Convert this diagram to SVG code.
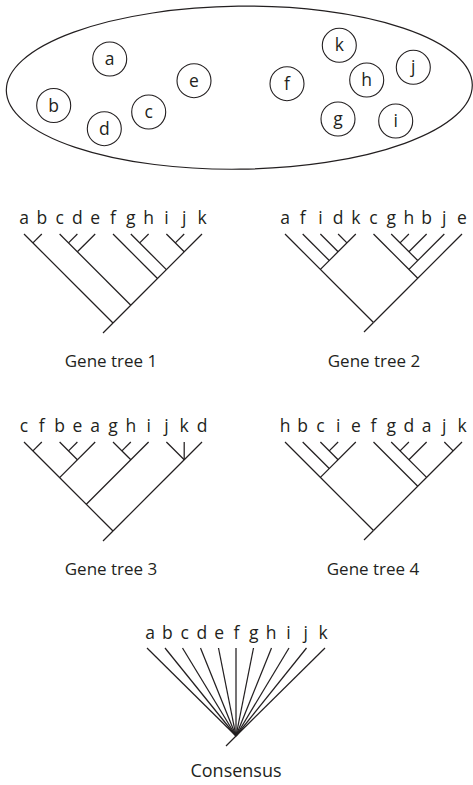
<svg xmlns="http://www.w3.org/2000/svg" width="473" height="785" viewBox="0 0 473 785">
<style>
  .lbl{font-family:"Open Sans","Noto Sans","Liberation Sans",sans-serif;font-size:17.5px;fill:#231f20;text-anchor:middle}
  .cap{font-family:"Open Sans","Noto Sans","Liberation Sans",sans-serif;font-size:17px;fill:#231f20;text-anchor:middle}
  .node circle{fill:none;stroke:#231f20;stroke-width:1.1}
  .br line{stroke:#231f20;stroke-width:1.25;fill:none}
  .pop{fill:none;stroke:#231f20;stroke-width:1.2}
</style>
<rect width="473" height="785" fill="#fff"/>
<g id="population">
  <ellipse class="pop" cx="239.3" cy="87.7" rx="233" ry="81.5" transform="rotate(-0.7 239.3 87.7)"/>
  <g id="node-a" class="node"><circle cx="109.7" cy="59" r="17"/><text class="lbl" x="109.7" y="65">a</text></g>
  <g id="node-b" class="node"><circle cx="53.7" cy="105.5" r="17"/><text class="lbl" x="53.7" y="111.5">b</text></g>
  <g id="node-d" class="node"><circle cx="104.3" cy="128.7" r="17"/><text class="lbl" x="104.3" y="134.7">d</text></g>
  <g id="node-c" class="node"><circle cx="148.7" cy="112" r="17"/><text class="lbl" x="148.7" y="118">c</text></g>
  <g id="node-e" class="node"><circle cx="194" cy="80.7" r="17"/><text class="lbl" x="194" y="86.7">e</text></g>
  <g id="node-f" class="node"><circle cx="287" cy="83.7" r="17"/><text class="lbl" x="287" y="89.7">f</text></g>
  <g id="node-k" class="node"><circle cx="339.3" cy="45.3" r="17"/><text class="lbl" x="339.3" y="51.3">k</text></g>
  <g id="node-h" class="node"><circle cx="366.7" cy="80" r="17"/><text class="lbl" x="366.7" y="86">h</text></g>
  <g id="node-j" class="node"><circle cx="413.3" cy="67.3" r="17"/><text class="lbl" x="413.3" y="73.3">j</text></g>
  <g id="node-g" class="node"><circle cx="338" cy="119" r="17"/><text class="lbl" x="338" y="125">g</text></g>
  <g id="node-i" class="node"><circle cx="395.7" cy="121" r="17"/><text class="lbl" x="395.7" y="127">i</text></g>
</g>

<g id="tree1">
  <g class="br" id="tree1-branches">
    <line x1="24" y1="234" x2="113" y2="323"/>
    <line x1="41.8" y1="234" x2="32.9" y2="242.9"/>
    <line x1="59.6" y1="234" x2="130.8" y2="305.2"/>
    <line x1="77.4" y1="234" x2="68.5" y2="242.9"/>
    <line x1="95.2" y1="234" x2="77.4" y2="251.8"/>
    <line x1="113" y1="234" x2="157.5" y2="278.5"/>
    <line x1="130.8" y1="234" x2="166.4" y2="269.6"/>
    <line x1="148.6" y1="234" x2="139.7" y2="242.9"/>
    <line x1="166.4" y1="234" x2="184.2" y2="251.8"/>
    <line x1="184.2" y1="234" x2="175.3" y2="242.9"/>
    <line x1="202" y1="234" x2="113" y2="323"/>
    <line x1="113" y1="323" x2="103" y2="333"/>
  </g>
  <g class="leaves">
    <text class="lbl" x="24" y="224">a</text><text class="lbl" x="41.8" y="224">b</text><text class="lbl" x="59.6" y="224">c</text><text class="lbl" x="77.4" y="224">d</text><text class="lbl" x="95.2" y="224">e</text><text class="lbl" x="113" y="224">f</text><text class="lbl" x="130.8" y="224">g</text><text class="lbl" x="148.6" y="224">h</text><text class="lbl" x="166.4" y="224">i</text><text class="lbl" x="184.2" y="224">j</text><text class="lbl" x="202" y="224">k</text>
  </g>
  <text class="cap" x="111" y="367">Gene tree 1</text>
</g>

<g id="tree2">
  <g class="br" id="tree2-branches">
    <line x1="285" y1="234" x2="373.5" y2="322.5"/>
    <line x1="302.7" y1="234" x2="329.25" y2="260.55"/>
    <line x1="320.4" y1="234" x2="338.1" y2="251.7"/>
    <line x1="338.1" y1="234" x2="346.95" y2="242.85"/>
    <line x1="355.8" y1="234" x2="320.4" y2="269.4"/>
    <line x1="373.5" y1="234" x2="417.75" y2="278.25"/>
    <line x1="391.2" y1="234" x2="417.75" y2="260.55"/>
    <line x1="408.9" y1="234" x2="400.05" y2="242.85"/>
    <line x1="426.6" y1="234" x2="408.9" y2="251.7"/>
    <line x1="444.3" y1="234" x2="408.9" y2="269.4"/>
    <line x1="462" y1="234" x2="373.5" y2="322.5"/>
    <line x1="373.5" y1="322.5" x2="364" y2="332"/>
  </g>
  <g class="leaves">
    <text class="lbl" x="285" y="224">a</text><text class="lbl" x="302.7" y="224">f</text><text class="lbl" x="320.4" y="224">i</text><text class="lbl" x="338.1" y="224">d</text><text class="lbl" x="355.8" y="224">k</text><text class="lbl" x="373.5" y="224">c</text><text class="lbl" x="391.2" y="224">g</text><text class="lbl" x="408.9" y="224">h</text><text class="lbl" x="426.6" y="224">b</text><text class="lbl" x="444.3" y="224">j</text><text class="lbl" x="462" y="224">e</text>
  </g>
  <text class="cap" x="374" y="367">Gene tree 2</text>
</g>

<g id="tree3">
  <g class="br" id="tree3-branches">
    <line x1="24" y1="442" x2="113" y2="531"/>
    <line x1="41.8" y1="442" x2="32.9" y2="450.9"/>
    <line x1="59.6" y1="442" x2="77.4" y2="459.8"/>
    <line x1="77.4" y1="442" x2="68.5" y2="450.9"/>
    <line x1="95.2" y1="442" x2="59.6" y2="477.6"/>
    <line x1="113" y1="442" x2="130.8" y2="459.8"/>
    <line x1="130.8" y1="442" x2="121.9" y2="450.9"/>
    <line x1="148.6" y1="442" x2="86.3" y2="504.3"/>
    <line x1="166.4" y1="442" x2="184.2" y2="459.8"/>
    <line x1="184.2" y1="442" x2="184.2" y2="459.8"/>
    <line x1="202" y1="442" x2="113" y2="531"/>
    <line x1="113" y1="531" x2="103" y2="541"/>
  </g>
  <g class="leaves">
    <text class="lbl" x="24" y="432">c</text><text class="lbl" x="41.8" y="432">f</text><text class="lbl" x="59.6" y="432">b</text><text class="lbl" x="77.4" y="432">e</text><text class="lbl" x="95.2" y="432">a</text><text class="lbl" x="113" y="432">g</text><text class="lbl" x="130.8" y="432">h</text><text class="lbl" x="148.6" y="432">i</text><text class="lbl" x="166.4" y="432">j</text><text class="lbl" x="184.2" y="432">k</text><text class="lbl" x="202" y="432">d</text>
  </g>
  <text class="cap" x="111" y="575">Gene tree 3</text>
</g>

<g id="tree4">
  <g class="br" id="tree4-branches">
    <line x1="285" y1="442" x2="373.5" y2="530.5"/>
    <line x1="302.7" y1="442" x2="329.25" y2="468.55"/>
    <line x1="320.4" y1="442" x2="338.1" y2="459.7"/>
    <line x1="338.1" y1="442" x2="329.25" y2="450.85"/>
    <line x1="355.8" y1="442" x2="320.4" y2="477.4"/>
    <line x1="373.5" y1="442" x2="417.75" y2="486.25"/>
    <line x1="391.2" y1="442" x2="426.6" y2="477.4"/>
    <line x1="408.9" y1="442" x2="400.05" y2="450.85"/>
    <line x1="426.6" y1="442" x2="408.9" y2="459.7"/>
    <line x1="444.3" y1="442" x2="453.15" y2="450.85"/>
    <line x1="462" y1="442" x2="373.5" y2="530.5"/>
    <line x1="373.5" y1="530.5" x2="364" y2="540"/>
  </g>
  <g class="leaves">
    <text class="lbl" x="285" y="432">h</text><text class="lbl" x="302.7" y="432">b</text><text class="lbl" x="320.4" y="432">c</text><text class="lbl" x="338.1" y="432">i</text><text class="lbl" x="355.8" y="432">e</text><text class="lbl" x="373.5" y="432">f</text><text class="lbl" x="391.2" y="432">g</text><text class="lbl" x="408.9" y="432">d</text><text class="lbl" x="426.6" y="432">a</text><text class="lbl" x="444.3" y="432">j</text><text class="lbl" x="462" y="432">k</text>
  </g>
  <text class="cap" x="373" y="575">Gene tree 4</text>
</g>

<g id="consensus">
  <g class="br" id="consensus-branches">
    <line x1="147" y1="648" x2="236" y2="736"/>
    <line x1="165" y1="648" x2="236" y2="736"/>
    <line x1="182.5" y1="648" x2="236" y2="736"/>
    <line x1="200.5" y1="648" x2="236" y2="736"/>
    <line x1="218.5" y1="648" x2="236" y2="736"/>
    <line x1="236" y1="648" x2="236" y2="736"/>
    <line x1="253.5" y1="648" x2="236" y2="736"/>
    <line x1="271.5" y1="648" x2="236" y2="736"/>
    <line x1="289" y1="648" x2="236" y2="736"/>
    <line x1="306.5" y1="648" x2="236" y2="736"/>
    <line x1="325" y1="648" x2="236" y2="736"/>
    <line x1="236" y1="736" x2="226" y2="746"/>
  </g>
  <g class="leaves">
    <text class="lbl" x="150" y="639">a</text><text class="lbl" x="167.3" y="639">b</text><text class="lbl" x="184.6" y="639">c</text><text class="lbl" x="201.9" y="639">d</text><text class="lbl" x="219.2" y="639">e</text><text class="lbl" x="236.5" y="639">f</text><text class="lbl" x="253.8" y="639">g</text><text class="lbl" x="271.1" y="639">h</text><text class="lbl" x="288.4" y="639">i</text><text class="lbl" x="305.7" y="639">j</text><text class="lbl" x="323" y="639">k</text>
  </g>
  <text class="cap" x="236" y="777" style="font-size:18px">Consensus</text>
</g>
</svg>
